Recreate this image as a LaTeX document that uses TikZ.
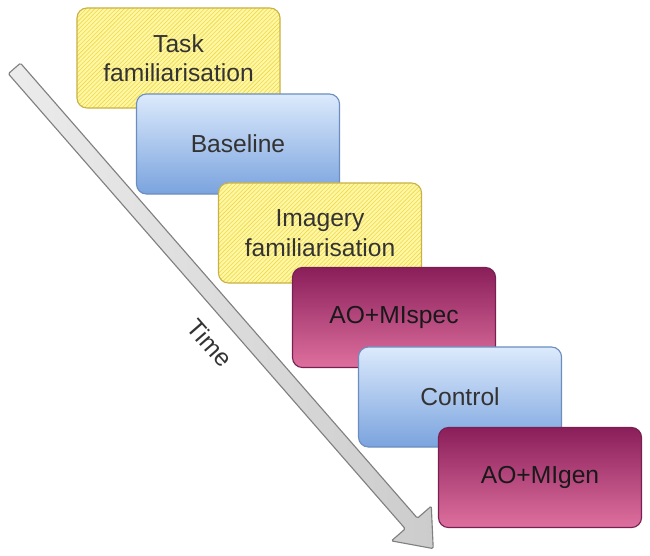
\documentclass[tikz,border=0pt]{standalone}
\usepackage{fontspec}
\setmainfont{Liberation Sans}
\usepackage{tikz}
\usetikzlibrary{positioning, shapes.arrows, patterns}

\definecolor{famfill}{RGB}{255,247,165}
\definecolor{famstripe}{RGB}{238,218,70}
\definecolor{famline}{RGB}{200,178,70}
\definecolor{basetop}{RGB}{220,234,252}
\definecolor{basebottom}{RGB}{122,163,222}
\definecolor{baseline}{RGB}{108,142,191}
\definecolor{aotop}{RGB}{138,30,90}
\definecolor{aobottom}{RGB}{222,112,158}
\definecolor{aoline}{RGB}{120,32,82}

\begin{document}
\begin{tikzpicture}[
  x=0.025cm, y=-0.025cm,
  phase/.style={rectangle, draw, rounded corners=0.25cm, minimum width=5.075cm, minimum height=2.5cm, align=center, font=\fontsize{17.5}{21}\selectfont, text=black!80, line width=0.8pt},
  fambox/.style={phase, draw=famline, preaction={fill=famfill}, pattern=north east lines, pattern color=famstripe},
  basebox/.style={phase, draw=baseline, top color=basetop, bottom color=basebottom},
  aobox/.style={phase, draw=aoline, top color=aotop, bottom color=aobottom, text=black!90},
  timearrow/.style={single arrow, draw=gray, left color=gray!15, right color=gray!40, line width=0.8pt, inner sep=0pt, text height=0.375cm, text depth=0pt, minimum height=15.925cm, single arrow head extend=0.46cm, single arrow tip angle=77, rounded corners=1pt}
]
  \useasboundingbox (0,0) rectangle (650,555);

  % time axis
  \node[timearrow, anchor=tail, rotate=-48.9] (timeline) at (14,68) {};
  \node[font=\fontsize{17.5}{21}\selectfont, text=black!80, rotate=-48.9] (timelabel) at (210,343) {Time};

  % phases
  \node[fambox] (task) at (178.5,58) {Task\\familiarisation};
  \node[basebox] (base) at (238,144) {Baseline};
  \node[fambox] (imagery) at (320,233) {Imagery\\familiarisation};
  \node[aobox] (aospec) at (394,317.5) {AO+MIspec};
  \node[basebox] (control) at (460,397) {Control};
  \node[aobox] (aogen) at (540,477.5) {AO+MIgen};
\end{tikzpicture}
\end{document}
